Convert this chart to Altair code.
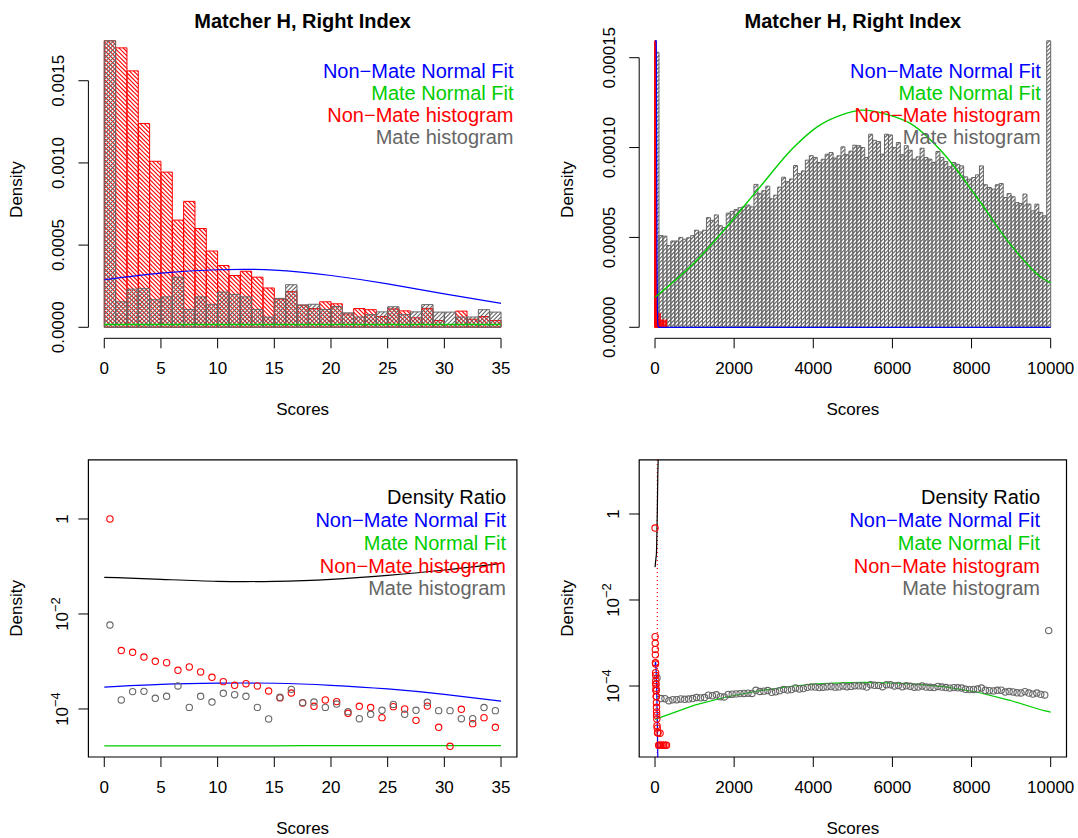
import math
import altair as alt
import pandas as pd

FONT = "Liberation Sans"
RED, BLUE, GREEN, GRAY, BLACK = "#ff0000", "#0000ff", "#00cd00", "#666666", "#000000"
W, H = 1078, 838

# ---------------- data ----------------
# scores 0..35, width-1 bins
bin1_left = list(range(35))
nonmate_w1 = [1.0, 0.00170, 0.00156, 0.00124, 0.00101, 0.000944, 0.000652, 0.000766, 0.000601, 0.000464,
              0.000376, 0.000315, 0.000341, 0.000305, 0.000239, 0.000171, 0.000217, 0.000134, 0.000114, 0.000155,
              0.000143, 0.0000811, 0.000114, 0.000107, 0.0000657, 0.000112, 0.000100, 0.0000576, 0.000115, 0.0000411,
              0.0000164, 0.0000984, 0.0000491, 0.0000657, 0.0000411]
mate_w1 = [0.00586, 0.000155, 0.000232, 0.000235, 0.000168, 0.000185, 0.000305, 0.000108, 0.000185, 0.000140,
           0.000214, 0.000200, 0.000185, 0.000108, 0.0000617, 0.000176, 0.000259, 0.000136, 0.000140, 0.000108,
           0.000127, 0.0000879, 0.0000625, 0.0000773, 0.0000937, 0.000125, 0.0000773, 0.0000937, 0.000138, 0.0000923,
           0.0000923, 0.0000625, 0.0000625, 0.000107, 0.0000923]
near_x = [0, 5, 10, 15, 20, 25, 30, 35]
nonmate_fit_near = [0.000289, 0.000329, 0.000350, 0.000348, 0.000315, 0.000264, 0.000203, 0.000146]
mate_fit_near = [1.67e-5, 1.67e-5, 1.68e-5, 1.68e-5, 1.69e-5, 1.69e-5, 1.70e-5, 1.70e-5]
ratio_near = [0.0592, 0.0537, 0.0488, 0.0488, 0.0537, 0.0652, 0.0843, 0.1167]

# scores 0..10000
bin100_left = list(range(0, 10000, 100))
mate_w100 = [1.53e-4, 5.1e-5, 5.07e-5, 4.55e-5, 4.8e-5, 4.8e-5, 5.0e-5, 4.9e-5, 4.98e-5, 5.1e-5,
             5.4e-5, 5.3e-5, 5.4e-5, 6.1e-5, 5.95e-5, 6.25e-5, 5.65e-5, 5.55e-5, 6.35e-5, 6.45e-5,
             6.55e-5, 6.65e-5, 6.7e-5, 6.8e-5, 6.7e-5, 7.95e-5, 7.45e-5, 7.6e-5, 7.85e-5, 7.15e-5,
             7.35e-5, 7.8e-5, 8.35e-5, 8.1e-5, 8.25e-5, 9.0e-5, 8.55e-5, 8.7e-5, 9.3e-5, 9.55e-5,
             9.45e-5, 9.17e-5, 9.35e-5, 9.63e-5, 9.72e-5, 9.41e-5, 9.54e-5, 1.004e-4, 9.6e-5, 9.8e-5,
             1.013e-4, 1.01e-4, 1.0e-4, 9.45e-5, 1.074e-4, 1.04e-4, 1.033e-4, 9.63e-5, 1.074e-4, 1.07e-4,
             1.0e-4, 1.028e-4, 9.6e-5, 1.01e-4, 9.85e-5, 9.35e-5, 9.48e-5, 9.96e-5, 9.45e-5, 9.35e-5,
             9.17e-5, 9.78e-5, 9.45e-5, 9.22e-5, 8.93e-5, 9.17e-5, 9.07e-5, 8.98e-5, 8.37e-5, 8.24e-5,
             8.33e-5, 8.48e-5, 8.98e-5, 7.93e-5, 7.78e-5, 7.69e-5, 7.93e-5, 8.0e-5, 7.22e-5, 7.44e-5,
             7.26e-5, 6.94e-5, 6.89e-5, 7.41e-5, 6.85e-5, 6.48e-5, 6.85e-5, 6.39e-5, 6.2e-5, 0.00194]
nonmate_w2_mid = [1, 3, 5, 7, 9, 11, 13, 15, 17, 19, 21, 23, 25, 27, 29, 31, 33, 35,
                  37, 39, 41, 45, 49, 55, 63, 75, 91, 111, 127, 151, 181, 215, 255, 291]
nonmate_w2 = [0.47, 0.0014, 0.00098, 0.00071, 0.00053, 0.000346, 0.000323, 0.000205, 0.000176, 0.000135,
              0.000112, 0.00011, 0.000089, 0.000079, 0.000078, 0.000057, 0.000057, 0.000041,
              3.2e-5, 2.5e-5, 2.1e-5, 1.7e-5, 1.2e-5, 1.05e-5, 8.2e-6, 8.2e-6, 4.2e-6, 4.2e-6, 8e-6,
              4.2e-6, 4.2e-6, 4.2e-6, 4.2e-6, 4.2e-6]
nonmate_fit_x = [0, 5, 10, 15, 20, 25, 30, 35, 40, 50, 60, 70, 80, 100, 10000]
nonmate_fit_full = [0.000289, 0.000329, 0.00035, 0.000348, 0.000315, 0.000264, 0.000203, 0.000146,
                    0.000104, 3.8e-5, 1.04e-5, 2.1e-6, 3e-7, 0.0, 0.0]
mate_fit_x = [0, 1000, 1800, 2650, 3500, 4100, 4700, 5265, 5850, 6450, 7290, 8130, 8970, 9810, 10000]
mate_fit_full = [1.67e-5, 3.6e-5, 5.55e-5, 7.8e-5, 1.0e-4, 1.115e-4, 1.18e-4, 1.208e-4, 1.185e-4,
                 1.134e-4, 9.67e-5, 7.25e-5, 4.65e-5, 2.7e-5, 2.47e-5]
ratio_full_x = [0, 35, 40, 50, 60, 70, 80]
ratio_full = [0.058, 0.117, 0.16, 0.44, 1.6, 8.0, 55.0]
dotted_x = 58

# axis ticks and labels
near_ticks = [0, 5, 10, 15, 20, 25, 30, 35]
near_tick_labels = ["0", "5", "10", "15", "20", "25", "30", "35"]
full_ticks = [0, 2000, 4000, 6000, 8000, 10000]
full_tick_labels = ["0", "2000", "4000", "6000", "8000", "10000"]
tl_yticks = [0, 0.0005, 0.0010, 0.0015]
tl_ylabels = ["0.0000", "0.0005", "0.0010", "0.0015"]
tr_yticks = [0, 0.00005, 0.00010, 0.00015]
tr_ylabels = ["0.00000", "0.00005", "0.00010", "0.00015"]
log_ticks = [1, 0.01, 0.0001]
log_pow_ticks = [0.01, 0.0001]
log_pow_exps = ["−2", "−4"]

legend_top = [("Non−Mate Normal Fit", BLUE), ("Mate Normal Fit", GREEN),
              ("Non−Mate histogram", RED), ("Mate histogram", GRAY)]
legend_bottom = [("Density Ratio", BLACK)] + legend_top
TITLE = "Matcher H, Right Index"

# ---------------- panel geometry (pixels) ----------------
TLX = dict(domain=[-1.4, 36.4], range=[88.4, 516.9])
TLY = dict(domain=[-6.70e-5, 1.743e-3], range=[338.3, 40.8])
TRX = dict(domain=[-400, 10400], range=[639.2, 1066.5])
TRY = dict(domain=[-6.13e-6, 1.594e-4], range=[338.3, 40.8])
BLX = TLX
BLY = dict(domain=[10 ** -5.011, 10 ** 1.246], range=[757.0, 459.8])
BRX = TRX
BRY = dict(domain=[10 ** -5.651, 10 ** 1.260], range=[757.0, 459.8])


def dummy():
    return pd.DataFrame({"a": [1]})


def sc(d, log=False):
    return alt.Scale(domain=d["domain"], range=d["range"], nice=False, zero=False, clamp=True,
                     type="log" if log else "linear")


def hatch(lefts, rights, tops, xs, ys, period, slope):
    kx = (xs["range"][1] - xs["range"][0]) / (xs["domain"][1] - xs["domain"][0])
    ky = (ys["range"][0] - ys["range"][1]) / (ys["domain"][1] - ys["domain"][0])
    ymax = ys["domain"][1]
    out = []
    for x0, x1, t in zip(lefts, rights, tops):
        t = min(t, ymax)
        X0, X1, Yt = x0 * kx, x1 * kx, t * ky
        lo, hi = ((-X1, Yt - X0) if slope > 0 else (X0, Yt + X1))
        for k in range(math.ceil(lo / period), math.floor(hi / period) + 1):
            c = k * period
            if slope > 0:
                a, b = max(X0, -c), min(X1, Yt - c)
                if b - a > 0.05:
                    out.append(dict(hx=round(a / kx, 5), hx2=round(b / kx, 5),
                                    hy=float("%.6g" % ((a + c) / ky)), hy2=float("%.6g" % ((b + c) / ky))))
            else:
                a, b = max(X0, c - Yt), min(X1, c)
                if b - a > 0.05:
                    out.append(dict(hx=round(a / kx, 5), hx2=round(b / kx, 5),
                                    hy=float("%.6g" % ((c - a) / ky)), hy2=float("%.6g" % ((c - b) / ky))))
    return pd.DataFrame(out)


def hatch_layer(df, xs, ys, color, width=1.1):
    return alt.Chart(df).mark_rule(color=color, strokeWidth=width).encode(
        x=alt.X("hx:Q", scale=sc(xs), axis=None), x2="hx2:Q",
        y=alt.Y("hy:Q", scale=sc(ys), axis=None), y2="hy2:Q")


def rect_layer(lefts, rights, tops, xs, ys, color, fill_opacity=0.0):
    df = pd.DataFrame({"l": lefts, "r": rights, "t": tops, "b": [0.0] * len(tops)})
    return alt.Chart(df).mark_rect(stroke=color, strokeWidth=1, fill=color, fillOpacity=fill_opacity).encode(
        x=alt.X("l:Q", scale=sc(xs), axis=None), x2="r:Q",
        y=alt.Y("b:Q", scale=sc(ys), axis=None), y2="t:Q")


def seg_layer(x1, x2, y1, y2, xs, ys, color, log=False, width=1.0, dash=None):
    df = pd.DataFrame({"sx": [x1], "sx2": [x2], "sy": [y1], "sy2": [y2]})
    kw = dict(color=color, strokeWidth=width)
    if dash:
        kw["strokeDash"] = dash
    return alt.Chart(df).mark_rule(**kw).encode(
        x=alt.X("sx:Q", scale=sc(xs), axis=None), x2="sx2:Q",
        y=alt.Y("sy:Q", scale=sc(ys, log), axis=None), y2="sy2:Q")


def line_layer(xv, yv, xs, ys, color, log=False, interp="natural", width=1.2):
    df = pd.DataFrame({"px": xv, "py": yv})
    if log:
        df = df[df["py"] > 0]
    return alt.Chart(df).mark_line(color=color, strokeWidth=width, interpolate=interp).encode(
        x=alt.X("px:Q", scale=sc(xs), axis=None), y=alt.Y("py:Q", scale=sc(ys, log), axis=None))


def point_layer(xv, yv, xs, ys, color):
    df = pd.DataFrame({"qx": xv, "qy": yv})
    return alt.Chart(df).mark_point(shape="circle", filled=False, size=40, strokeWidth=1.1,
                                    color=color, opacity=1).encode(
        x=alt.X("qx:Q", scale=sc(xs), axis=None), y=alt.Y("qy:Q", scale=sc(ys, True), axis=None))


def text(t, x, y, color=BLACK, size=17, bold=False, align="center", baseline="middle", angle=0):
    kw = dict(text=t, font=FONT, fontSize=size, color=color, align=align, baseline=baseline,
              fontWeight="bold" if bold else "normal")
    if angle:
        kw["angle"] = angle
    return alt.Chart(dummy()).mark_text(**kw).encode(x=alt.value(x), y=alt.value(y))


def x_ticks(values, labels, xs, y_line, y_label):
    df = pd.DataFrame({"tv": values, "tl": labels})
    base = alt.Chart(df)
    return [
        base.mark_rule(color=BLACK, strokeWidth=1).encode(
            x=alt.X("tv:Q", scale=sc(xs), axis=None), y=alt.value(y_line), y2=alt.value(y_line + 10)),
        base.mark_text(font=FONT, fontSize=17, color=BLACK, align="center", baseline="middle").encode(
            x=alt.X("tv:Q", scale=sc(xs), axis=None), y=alt.value(y_label), text="tl:N"),
    ]


def y_ticks(values, labels, ys, log, x_line, x_label, dx=0, size=17, dy=0, align="center", rule=True):
    df = pd.DataFrame({"tv": values, "tl": labels})
    base = alt.Chart(df)
    out = []
    if rule:
        out.append(base.mark_rule(color=BLACK, strokeWidth=1).encode(
            y=alt.Y("tv:Q", scale=sc(ys, log), axis=None), x=alt.value(x_line), x2=alt.value(x_line - 10)))
    kw = dict(font=FONT, fontSize=size, color=BLACK, align=align, baseline="middle", angle=270)
    if dx:
        kw["dx"] = dx
    if dy:
        kw["dy"] = dy
    out.append(base.mark_text(**kw).encode(
        y=alt.Y("tv:Q", scale=sc(ys, log), axis=None), x=alt.value(x_label), text="tl:N"))
    return out


def log_y_ticks(ys, x_line, x_label):
    out = y_ticks(log_ticks, ["1", "", ""], ys, True, x_line, x_label)
    out += y_ticks(log_pow_ticks, ["10", "10"], ys, True, x_line, x_label, dx=-7.4, rule=False)
    out += y_ticks(log_pow_ticks, log_pow_exps, ys, True, x_line, x_label - 6.5, dx=2.0, size=13,
                   align="left", rule=False)
    return out


def frame_texts(xs, ys, title, legend, lx, ly0, ldy):
    cx = (xs["range"][0] + xs["range"][1]) / 2
    cy = (ys["range"][0] + ys["range"][1]) / 2
    out = []
    if title:
        out.append(text(title, cx, 28, size=20, bold=True, baseline="alphabetic"))
    out.append(text("Scores", cx, ys["range"][0] + 71.5))
    out.append(text("Density", xs["range"][0] - 71, cy, angle=270))
    for i, (lab, col) in enumerate(legend):
        out.append(text(lab, lx, ly0 + ldy * i, color=col, size=20, align="right"))
    return out


# ---------------- top-left ----------------
b1r = [l + 1 for l in bin1_left]
tl = alt.layer(
    hatch_layer(hatch(bin1_left, b1r, nonmate_w1, TLX, TLY, 4.2, -1), TLX, TLY, RED),
    rect_layer(bin1_left, b1r, nonmate_w1, TLX, TLY, RED),
    hatch_layer(hatch(bin1_left, b1r, mate_w1, TLX, TLY, 4.2, 1), TLX, TLY, GRAY),
    rect_layer(bin1_left, b1r, mate_w1, TLX, TLY, GRAY),
    line_layer(near_x, nonmate_fit_near, TLX, TLY, BLUE),
    line_layer(near_x, mate_fit_near, TLX, TLY, GREEN, width=1.6),
    seg_layer(TLX["domain"][0], TLX["domain"][0], 0, 0.0015, TLX, TLY, BLACK),
    seg_layer(0, 35, TLY["domain"][0], TLY["domain"][0], TLX, TLY, BLACK),
    *x_ticks(near_ticks, near_tick_labels, TLX, TLY["range"][0], 369),
    *y_ticks(tl_yticks, tl_ylabels, TLY, False, TLX["range"][0], TLX["range"][0] - 29),
    *frame_texts(TLX, TLY, TITLE, legend_top, 513.5, 71.7, 22.2),
)

# ---------------- top-right ----------------
b100r = [l + 100 for l in bin100_left]
tr = alt.layer(
    hatch_layer(hatch(bin100_left, b100r, mate_w100, TRX, TRY, 4.0, 1), TRX, TRY, GRAY, width=1.2),
    rect_layer(bin100_left, b100r, mate_w100, TRX, TRY, GRAY),
    rect_layer([m - 1 for m in nonmate_w2_mid], [m + 1 for m in nonmate_w2_mid], nonmate_w2,
               TRX, TRY, RED, fill_opacity=1.0),
    line_layer(nonmate_fit_x, nonmate_fit_full, TRX, TRY, BLUE, interp="linear"),
    line_layer(mate_fit_x, mate_fit_full, TRX, TRY, GREEN, interp="monotone", width=1.4),
    seg_layer(TRX["domain"][0], TRX["domain"][0], 0, 0.00015, TRX, TRY, BLACK),
    seg_layer(0, 10000, TRY["domain"][0], TRY["domain"][0], TRX, TRY, BLACK),
    *x_ticks(full_ticks, full_tick_labels, TRX, TRY["range"][0], 369),
    *y_ticks(tr_yticks, tr_ylabels, TRY, False, TRX["range"][0], TRX["range"][0] - 29.5),
    *frame_texts(TRX, TRY, TITLE, legend_top, 1040.7, 71.7, 22.2),
)


def box(xs, ys):
    df = pd.DataFrame({"bx": [xs["domain"][0]], "bx2": [xs["domain"][1]],
                       "by": [ys["domain"][0]], "by2": [ys["domain"][1]]})
    return alt.Chart(df).mark_rect(stroke=BLACK, strokeWidth=1.2, fill="white", fillOpacity=0).encode(
        x=alt.X("bx:Q", scale=sc(xs), axis=None), x2="bx2:Q",
        y=alt.Y("by:Q", scale=sc(ys, True), axis=None), y2="by2:Q")


# ---------------- bottom-left ----------------
mid1 = [l + 0.5 for l in bin1_left]
bl = alt.layer(
    box(BLX, BLY),
    line_layer(near_x, ratio_near, BLX, BLY, BLACK, log=True),
    line_layer(near_x, nonmate_fit_near, BLX, BLY, BLUE, log=True),
    line_layer(near_x, mate_fit_near, BLX, BLY, GREEN, log=True),
    point_layer(mid1, nonmate_w1, BLX, BLY, RED),
    point_layer(mid1, mate_w1, BLX, BLY, GRAY),
    *x_ticks(near_ticks, near_tick_labels, BLX, BLY["range"][0], 788),
    *log_y_ticks(BLY, BLX["range"][0], BLX["range"][0] - 25.5),
    *frame_texts(BLX, BLY, None, legend_bottom, 506, 498.3, 22.75),
)

# ---------------- bottom-right ----------------
mid100 = [l + 50 for l in bin100_left]
br = alt.layer(
    box(BRX, BRY),
    seg_layer(dotted_x, dotted_x, BRY["domain"][0], BRY["domain"][1], BRX, BRY, RED, log=True,
              width=1.2, dash=[1, 3]),
    line_layer(ratio_full_x, ratio_full, BRX, BRY, BLACK, log=True, interp="linear"),
    line_layer(nonmate_fit_x, nonmate_fit_full, BRX, BRY, BLUE, log=True, interp="linear"),
    line_layer(mate_fit_x, mate_fit_full, BRX, BRY, GREEN, log=True, interp="linear"),
    point_layer(mid100, mate_w100, BRX, BRY, GRAY),
    point_layer(nonmate_w2_mid, nonmate_w2, BRX, BRY, RED),
    *x_ticks(full_ticks, full_tick_labels, BRX, BRY["range"][0], 788),
    *log_y_ticks(BRY, BRX["range"][0], BRX["range"][0] - 25.5),
    *frame_texts(BRX, BRY, None, legend_bottom, 1040, 498.3, 22.75),
)

chart = alt.layer(tl, tr, bl, br).resolve_scale(x="independent", y="independent").properties(
    width=W, height=H, padding=0, autosize=alt.AutoSizeParams(type="none"), background="white"
).configure_view(strokeWidth=0)

chart.save("out.html", embed_options={"renderer": "svg", "actions": False})
